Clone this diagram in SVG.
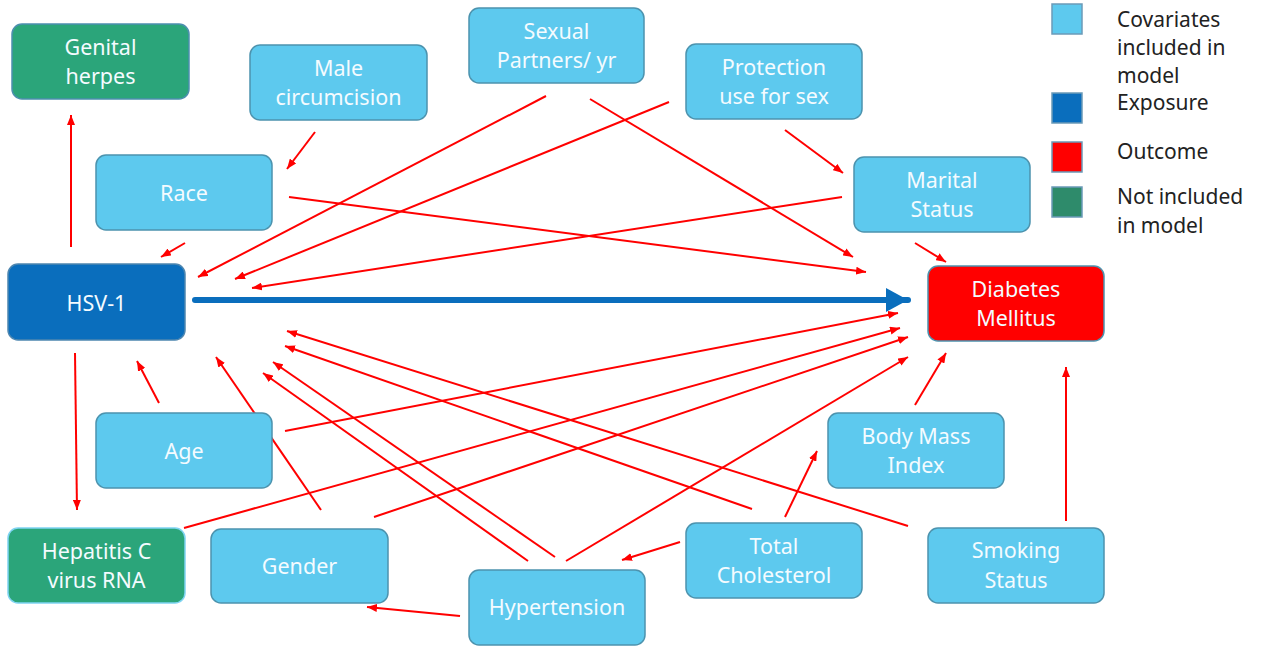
<svg xmlns="http://www.w3.org/2000/svg" width="1270" height="646" viewBox="0 0 1270 646">
<style>
.n rect{rx:10px;stroke-width:1.5}
.cov rect{fill:#5dc9ee;stroke:#4c93ae}
.exp rect{fill:#0a6ebd;stroke:#4d86b0}
.out rect{fill:#ff0000;stroke:#4c93ae}
.not rect{fill:#2ba57a;stroke:#4c8fae}
.n text{font-family:"Noto Sans","DejaVu Sans",sans-serif;font-size:21.5px;fill:#f4fbff;text-anchor:middle}
.lg text{font-family:"Noto Sans","DejaVu Sans",sans-serif;font-size:21px;fill:#222}
.lg rect{stroke:#6b9ab8;stroke-width:1.5}
#edges line{stroke:#ff0000;stroke-width:2;marker-end:url(#ar)}
</style>
<defs>
<marker id="ar" markerUnits="userSpaceOnUse" markerWidth="10" markerHeight="8" refX="10" refY="4" orient="auto">
<path d="M0,0 L10,4 L0,8 z" fill="#ff0000"/>
</marker>
<marker id="ab" markerUnits="userSpaceOnUse" markerWidth="22" markerHeight="24" refX="22" refY="12" orient="auto">
<path d="M0,0 L22,12 L0,24 z" fill="#0a6ebd"/>
</marker>
</defs>
<rect width="1270" height="646" fill="#ffffff"/>
<g id="edges">
<line x1="71" y1="247" x2="71" y2="115"/>
<line x1="75" y1="353" x2="77" y2="510"/>
<line x1="315" y1="132" x2="287" y2="169"/>
<line x1="185" y1="243" x2="161" y2="257"/>
<line x1="289" y1="197" x2="866" y2="272"/>
<line x1="546" y1="96" x2="198" y2="277"/>
<line x1="590" y1="99" x2="853" y2="257"/>
<line x1="669" y1="102" x2="235" y2="279"/>
<line x1="785" y1="130" x2="843" y2="173"/>
<line x1="842" y1="197" x2="252" y2="288"/>
<line x1="915" y1="243" x2="946" y2="262"/>
<line x1="159" y1="403" x2="137" y2="361"/>
<line x1="285" y1="431" x2="898" y2="313"/>
<line x1="184" y1="528" x2="900" y2="328"/>
<line x1="374" y1="517" x2="908" y2="337"/>
<line x1="566" y1="561" x2="908" y2="357"/>
<line x1="915" y1="405" x2="946" y2="353"/>
<line x1="1066" y1="521" x2="1066" y2="367"/>
<line x1="908" y1="526" x2="287" y2="331"/>
<line x1="752" y1="509" x2="285" y2="346"/>
<line x1="785" y1="517" x2="817" y2="451"/>
<line x1="680" y1="542" x2="622" y2="560"/>
<line x1="460" y1="616" x2="367" y2="607"/>
<line x1="321" y1="510" x2="216" y2="357"/>
<line x1="528" y1="561" x2="263" y2="373"/>
<line x1="555" y1="557" x2="273" y2="362"/>
<line x1="195" y1="300" x2="908" y2="300" style="stroke:#0a6ebd;stroke-width:6;stroke-linecap:round;marker-end:url(#ab)"/>
</g>
<g id="genital" class="n not"><rect x="12" y="24" width="177" height="75"/><text x="100.5" y="54.5">Genital</text><text x="100.5" y="83.5">herpes</text></g>
<g id="male" class="n cov"><rect x="250" y="45" width="177" height="75"/><text x="338.5" y="76">Male</text><text x="338.5" y="105">circumcision</text></g>
<g id="sexual" class="n cov"><rect x="469" y="8" width="175" height="75"/><text x="556.5" y="38.5">Sexual</text><text x="556.5" y="68">Partners/ yr</text></g>
<g id="protection" class="n cov"><rect x="686" y="44" width="176" height="75"/><text x="774" y="75">Protection</text><text x="774" y="104">use for sex</text></g>
<g id="race" class="n cov"><rect x="96" y="155" width="176" height="75"/><text x="184" y="200.5">Race</text></g>
<g id="marital" class="n cov"><rect x="854" y="157" width="176" height="75"/><text x="942" y="188">Marital</text><text x="942" y="217">Status</text></g>
<g id="hsv1" class="n exp"><rect x="8" y="264" width="177" height="76"/><text x="96.5" y="311">HSV-1</text></g>
<g id="diabetes" class="n out"><rect x="928" y="266" width="176" height="75"/><text x="1016" y="297">Diabetes</text><text x="1016" y="326">Mellitus</text></g>
<g id="age" class="n cov"><rect x="96" y="413" width="176" height="75"/><text x="184" y="458.5">Age</text></g>
<g id="bmi" class="n cov"><rect x="828" y="413" width="176" height="75"/><text x="916" y="443.5">Body Mass</text><text x="916" y="472.5">Index</text></g>
<g id="hepc" class="n not"><rect x="8" y="528" width="177" height="75" style="stroke:#7fd4f2"/><text x="96.5" y="559">Hepatitis C</text><text x="96.5" y="588">virus RNA</text></g>
<g id="gender" class="n cov"><rect x="211" y="529" width="177" height="74"/><text x="299.5" y="574">Gender</text></g>
<g id="hypertension" class="n cov"><rect x="469" y="570" width="176" height="75"/><text x="557" y="615">Hypertension</text></g>
<g id="cholesterol" class="n cov"><rect x="686" y="523" width="176" height="75"/><text x="774" y="554">Total</text><text x="774" y="583">Cholesterol</text></g>
<g id="smoking" class="n cov"><rect x="928" y="528" width="176" height="75"/><text x="1016" y="558">Smoking</text><text x="1016" y="587.5">Status</text></g>
<g id="legend" class="lg">
<rect x="1052" y="4" width="30" height="30" fill="#5dc9ee"/>
<rect x="1052" y="93" width="30" height="30" fill="#0a6ebd"/>
<rect x="1052" y="142" width="30" height="30" fill="#ff0000"/>
<rect x="1052" y="187" width="30" height="30" fill="#2e8b6b"/>
<text x="1117" y="27">Covariates</text>
<text x="1117" y="55">included in</text>
<text x="1117" y="83">model</text>
<text x="1117" y="110">Exposure</text>
<text x="1117" y="159">Outcome</text>
<text x="1117" y="204">Not included</text>
<text x="1117" y="233">in model</text>
</g>
</svg>
